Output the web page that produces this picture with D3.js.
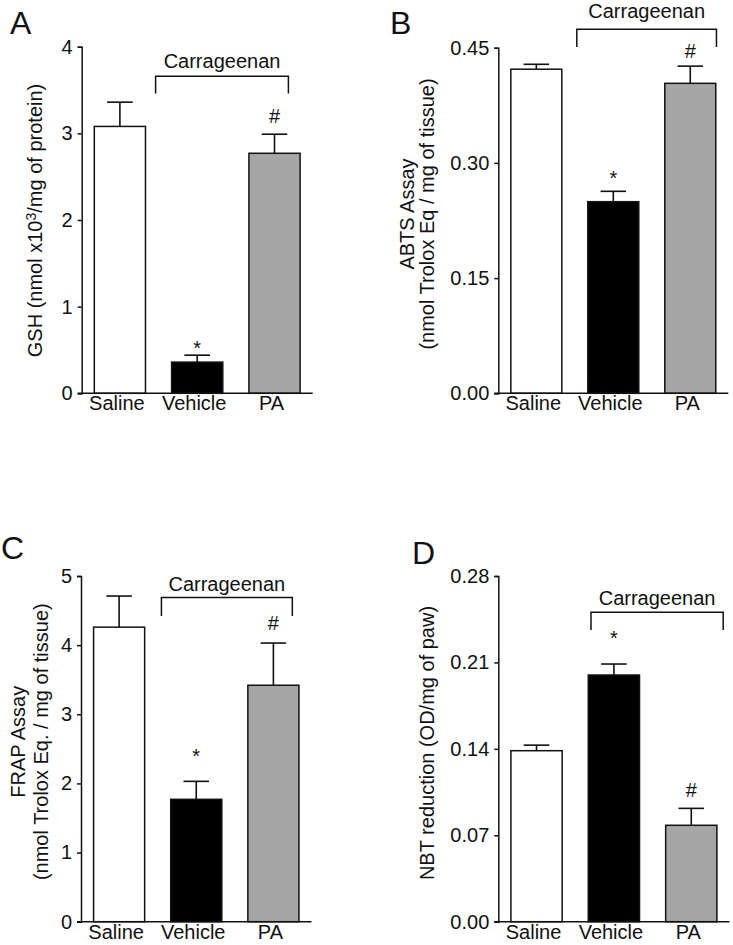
<!DOCTYPE html>
<html>
<head>
<meta charset="utf-8">
<script src="https://cdn.jsdelivr.net/npm/d3@7"></script>
<style>
  html, body { margin: 0; padding: 0; background: #fff; }
  svg text { font-family: "Liberation Sans", Arial, Helvetica, sans-serif; fill: #111; }
</style>
</head>
<body>
<svg id="chart" width="733" height="945"></svg>
<script>
// ---------- data ----------
const categories = ["Saline", "Vehicle", "PA"];
const barFills = ["#ffffff", "#000000", "#a6a6a6"];

const gshMeans  = [3.08, 0.36, 2.77];
const gshErrors = [0.28, 0.08, 0.22];
const abtsMeans  = [0.422, 0.2495, 0.4036];
const abtsErrors = [0.0064, 0.0135, 0.0224];
const frapMeans  = [4.26, 1.77, 3.42];
const frapErrors = [0.45, 0.26, 0.61];
const nbtMeans  = [0.1385, 0.1998, 0.0781];
const nbtErrors = [0.0045, 0.0089, 0.0137];

const ticksA = [0, 1, 2, 3, 4];
const ticksB = [0, 0.15, 0.30, 0.45];
const ticksC = [0, 1, 2, 3, 4, 5];
const ticksD = [0, 0.07, 0.14, 0.21, 0.28];

const marksA = ["", "*", "#"];
const marksB = ["", "*", "#"];
const marksC = ["", "*", "#"];
const marksD = ["", "*", "#"];
// data-unit positions (glyph centres) of the significance marks
const markYA = [0, 0.57, 3.20];
const markYB = [0, 0.2865, 0.446];
const markYC = [0, 2.46, 4.32];
const markYD = [0, 0.2336, 0.1067];

const bracketLabel = "Carrageenan";

// ---------- layout ----------
const panels = [
  { letter: "A", lx: 10, ly: 33.5, means: gshMeans, errors: gshErrors, ticks: ticksA, fmt: d3.format("d"),
    marks: marksA, markY: markYA,
    x0: 81.7, x1: 312.7, yB: 393.3, yT: 46.7,
    bracket: { top: 3.66, leg: 3.46, text: 3.75, dl: -16, dr: -11.7 },
    title: { lines: [[{t: "GSH (nmol x10"}, {t: "3", sup: true}, {t: "/mg of protein)"}]], xs: [35], cy: 220.5 } },
  { letter: "B", lx: 390, ly: 33.5, means: abtsMeans, errors: abtsErrors, ticks: ticksB, fmt: d3.format(".2f"),
    marks: marksB, markY: markYB,
    x0: 498.3, x1: 728.3, yB: 393.3, yT: 47.7,
    bracket: { top: 0.474, leg: 0.451, text: 0.489, dl: -11, dr: 0.7 },
    title: { lines: [[{t: "ABTS Assay"}], [{t: "(nmol Trolox Eq / mg of tissue)"}]], xs: [406.7, 427], cy: 214 } },
  { letter: "C", lx: 1, ly: 558.5, means: frapMeans, errors: frapErrors, ticks: ticksC, fmt: d3.format("d"),
    marks: marksC, markY: markYC,
    x0: 81, x1: 311.5, yB: 921.7, yT: 576,
    bracket: { top: 4.69, leg: 4.42, text: 4.78, dl: -9.3, dr: -6.6 },
    title: { lines: [[{t: "FRAP Assay"}], [{t: "(nmol Trolox Eq. / mg of tissue)"}]], xs: [17.5, 40.7], cy: 741.7 } },
  { letter: "D", lx: 412, ly: 563.5, means: nbtMeans, errors: nbtErrors, ticks: ticksD, fmt: d3.format(".2f"),
    marks: marksD, markY: markYD,
    x0: 498.3, x1: 729.5, yB: 921.7, yT: 576,
    bracket: { top: 0.2506, leg: 0.2363, text: 0.2565, dl: 2.7, dr: 6.3 },
    title: { lines: [[{t: "NBT reduction (OD/mg of paw)"}]], xs: [426.7], cy: 743 } }
];

const FS = 20;
const ink = "#111";
const svg = d3.select("#chart");

panels.forEach(p => {
  const g = svg.append("g");
  const yMax = p.ticks[p.ticks.length - 1];
  const y = d3.scaleLinear().domain([0, yMax]).range([p.yB, p.yT]);
  const x = d3.scaleBand().domain(categories).range([p.x0, p.x1])
    .paddingInner(0.338).paddingOuter(0.163);
  const bw = x.bandwidth();

  // panel letter
  g.append("text").attr("x", p.lx).attr("y", p.ly)
    .attr("font-size", 32).text(p.letter);

  // y axis
  const yAxis = d3.axisLeft(y).tickValues(p.ticks).tickFormat(p.fmt)
    .tickSize(4).tickPadding(5);
  const ya = g.append("g").attr("transform", `translate(${p.x0},0)`).call(yAxis);
  ya.select(".domain").attr("stroke", ink).attr("stroke-width", 1.5);
  ya.selectAll(".tick line").attr("stroke", ink).attr("stroke-width", 1.5);
  ya.selectAll(".tick text").attr("font-size", FS).attr("font-family", "Liberation Sans, Arial, sans-serif").attr("fill", ink);

  // bars
  categories.forEach((c, i) => {
    const v = p.means[i], e = p.errors[i];
    const cx = x(c) + bw / 2;
    // error bar (upper)
    g.append("line").attr("x1", cx).attr("x2", cx)
      .attr("y1", y(v)).attr("y2", y(v + e))
      .attr("stroke", ink).attr("stroke-width", 1.6);
    g.append("line").attr("x1", cx - bw / 4).attr("x2", cx + bw / 4)
      .attr("y1", y(v + e)).attr("y2", y(v + e))
      .attr("stroke", ink).attr("stroke-width", 1.6);
    g.append("rect").attr("x", x(c)).attr("y", y(v))
      .attr("width", bw).attr("height", y(0) - y(v))
      .attr("fill", barFills[i]).attr("stroke", ink).attr("stroke-width", 1.5);
    // marks
    const m = p.marks[i];
    if (m) {
      const off = m === "*" ? 0.57 * FS : 0.36 * FS;
      g.append("text").attr("x", cx).attr("y", y(p.markY[i]) + off)
        .attr("text-anchor", "middle").attr("font-size", FS).text(m);
    }
    // category label
    g.append("text").attr("x", cx - 3).attr("y", p.yB + 17)
      .attr("text-anchor", "middle").attr("font-size", FS).text(c);
  });

  // x axis line
  g.append("line").attr("x1", p.x0 - 4).attr("x2", p.x1)
    .attr("y1", p.yB).attr("y2", p.yB)
    .attr("stroke", ink).attr("stroke-width", 1.5);

  // bracket
  const bl = x("Vehicle") + p.bracket.dl;
  const br = x("PA") + bw + p.bracket.dr;
  const bt = y(p.bracket.top), blg = y(p.bracket.leg);
  g.append("path")
    .attr("d", `M${bl},${blg}V${bt}H${br}V${blg}`)
    .attr("fill", "none").attr("stroke", ink).attr("stroke-width", 1.5);
  g.append("text").attr("x", (bl + br) / 2).attr("y", y(p.bracket.text))
    .attr("text-anchor", "middle").attr("font-size", FS).text(bracketLabel);

  // y title
  p.title.lines.forEach((line, li) => {
    const t = g.append("text")
      .attr("transform", `translate(${p.title.xs[li]},${p.title.cy}) rotate(-90)`)
      .attr("text-anchor", "middle").attr("dy", "0.35em").attr("font-size", FS);
    line.forEach((seg, si) => {
      if (seg.sup) {
        t.append("tspan").attr("dy", "-0.45em").attr("font-size", FS * 0.7).text(seg.t);
      } else {
        const ts = t.append("tspan").text(seg.t);
        if (si > 0 && line[si - 1].sup) ts.attr("dy", "0.32em");
      }
    });
  });
});
</script>
</body>
</html>
